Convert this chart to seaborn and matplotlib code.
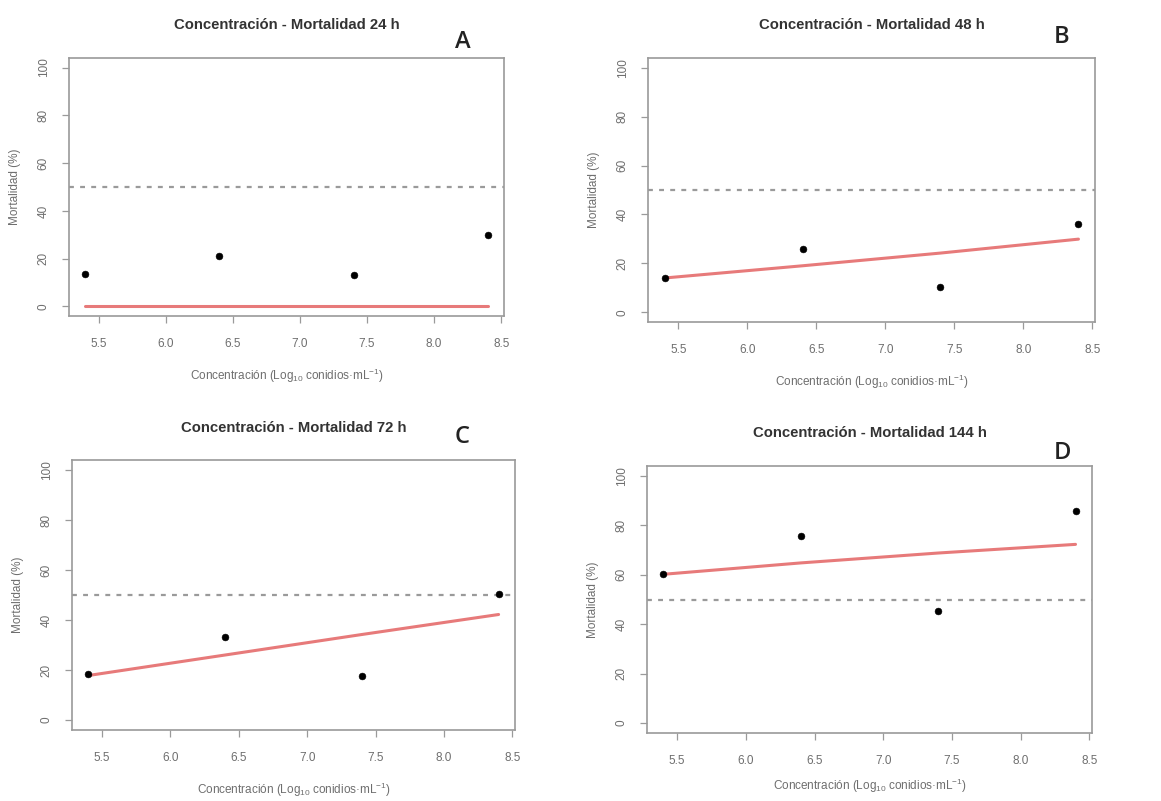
import matplotlib
matplotlib.use("Agg")
import matplotlib.pyplot as plt
import seaborn as sns
import pandas as pd

# Log10 concentrations tested (conidia per mL)
concentracion = [5.4, 6.4, 7.4, 8.4]

# Observed mortality (%) at each evaluation time
mort_24 = [13.4, 21.2, 13.0, 29.7]
mort_48 = [14.2, 25.8, 10.4, 36.1]
mort_72 = [18.5, 33.1, 17.8, 50.3]
mort_144 = [60.2, 75.5, 45.2, 85.7]

# Fitted concentration-mortality response at the same concentrations
ajuste_24 = [0.0, 0.0, 0.0, 0.0]
ajuste_48 = [14.0, 19.0, 24.2, 29.9]
ajuste_72 = [17.8, 26.0, 34.2, 42.2]
ajuste_144 = [60.2, 64.8, 68.8, 72.3]

titulos = ["Concentración - Mortalidad 24 h", "Concentración - Mortalidad 48 h",
           "Concentración - Mortalidad 72 h", "Concentración - Mortalidad 144 h"]
letras = ["A", "B", "C", "D"]
x_ticks = [5.5, 6.0, 6.5, 7.0, 7.5, 8.0, 8.5]
y_ticks = [0, 20, 40, 60, 80, 100]
umbral = 50

sns.set_style("white")
plt.rcParams["font.family"] = ["Liberation Sans", "DejaVu Sans"]
plt.rcParams["mathtext.fontset"] = "custom"
plt.rcParams["mathtext.rm"] = "Liberation Sans"
plt.rcParams["mathtext.it"] = "Liberation Sans"

W, H = 1161, 801
fig = plt.figure(figsize=(W / 100, H / 100), dpi=100)

# panel boxes in pixels: left, right, top, bottom
cajas = [(69, 504, 58, 316), (648, 1095, 58, 322),
         (72, 515, 460, 730), (647, 1092, 466, 733)]
letra_pos = [(463, 42), (1062, 37), (462, 437), (1062, 453)]
titulo_y = [25, 25, 428, 433]
xlabel_pad = [12, 12, 12, 7]

paneles = [(mort_24, ajuste_24), (mort_48, ajuste_48),
           (mort_72, ajuste_72), (mort_144, ajuste_144)]

gris_txt = "#6e6e6e"
gris_caja = "#9a9a9a"

for i, ((obs, fit), (l, r, t, b)) in enumerate(zip(paneles, cajas)):
    ax = fig.add_axes([l / W, 1 - b / H, (r - l) / W, (b - t) / H])
    df = pd.DataFrame({"conc": concentracion, "mort": obs, "ajuste": fit})

    ax.axhline(umbral, color="#9a9a9a", lw=1.6, ls=(0, (2.2, 2.8)), zorder=1)
    sns.lineplot(data=df, x="conc", y="ajuste", ax=ax, color="#e77a7a",
                 lw=2.2, zorder=2)
    sns.scatterplot(data=df, x="conc", y="mort", ax=ax, color="black",
                    s=24, edgecolor="black", linewidth=0.4, zorder=3)

    ax.set_xlim(5.28, 8.52)
    ax.set_ylim(-4, 104)
    ax.set_xticks(x_ticks)
    ax.set_xticklabels([f"{v:.1f}" for v in x_ticks])
    ax.set_yticks(y_ticks)
    ax.set_yticklabels([str(v) for v in y_ticks], rotation=90, va="center")
    ax.tick_params(axis="both", direction="out", length=5, width=0.9,
                   color=gris_caja, labelcolor=gris_txt, labelsize=8.5,
                   bottom=True, left=True)
    ax.tick_params(axis="x", pad=11)
    ax.tick_params(axis="y", pad=9)
    for sp in ax.spines.values():
        sp.set_color(gris_caja)
        sp.set_linewidth(1.2)
    ax.set_xlabel(r"Concentración (Log$_{10}$ conidios·mL$^{-1}$)",
                  color=gris_txt, fontsize=8.5, labelpad=xlabel_pad[i])
    ax.set_ylabel("Mortalidad (%)", color=gris_txt, fontsize=8.5, labelpad=12)

    cx = (l + r) / 2
    fig.text(cx / W, 1 - titulo_y[i] / H, titulos[i], ha="center",
             va="center", fontsize=10.7, fontweight="bold", color="#333333")
    lx, ly = letra_pos[i]
    fig.text(lx / W, 1 - ly / H, letras[i], ha="center", va="center",
             fontsize=17, fontweight="semibold", color="#222222",
             family=["Open Sans", "DejaVu Sans"])

fig.savefig("out.png", dpi=100, facecolor="white")
